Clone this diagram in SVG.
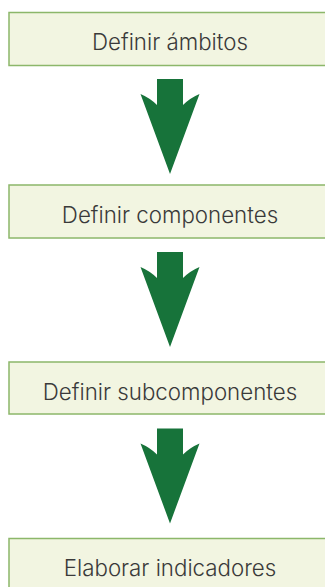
<svg xmlns="http://www.w3.org/2000/svg" width="325" height="587" viewBox="0 0 325 587">
<defs>
<style>
.box{fill:#f2f5e1;stroke:#8cb76a;stroke-width:1.5}
.lbl{font-family:"Inter","Lato","Liberation Sans",sans-serif;font-weight:300;font-size:22.3px;fill:#3a3a3a;text-anchor:middle}
.arr{fill:#17733a}
</style>
<path id="arrow" d="M157,0 L183,0 L183,26 Q190,19 199.5,15 L170,95 L140.5,15 Q150,19 157,26 Z"/>
</defs>
<rect x="0" y="0" width="325" height="587" fill="#ffffff"/>
<g id="connectors">
<use href="#arrow" class="arr" y="79"/>
<use href="#arrow" class="arr" y="252"/>
<use href="#arrow" class="arr" y="428.5"/>
</g>
<g id="n1"><rect class="box" x="9" y="12.5" width="330" height="53"/><text class="lbl" x="170" y="50">Definir ámbitos</text></g>
<g id="n2"><rect class="box" x="9" y="185" width="330" height="53"/><text class="lbl" x="170" y="222.5">Definir componentes</text></g>
<g id="n3"><rect class="box" x="9" y="362" width="330" height="52"/><text class="lbl" x="170" y="399.5">Definir subcomponentes</text></g>
<g id="n4"><rect class="box" x="9" y="538.5" width="330" height="60"/><text class="lbl" x="170" y="575.5">Elaborar indicadores</text></g>
</svg>
